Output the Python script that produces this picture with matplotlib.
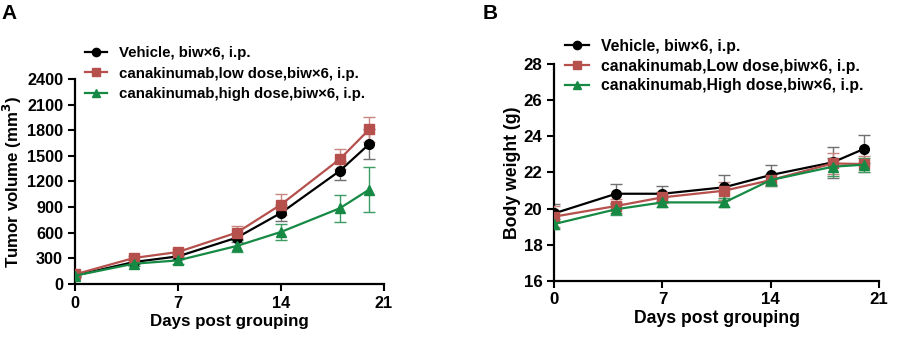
import matplotlib
matplotlib.use("Agg")
import matplotlib.pyplot as plt
import numpy as np

plt.rcParams['font.family'] = ['Liberation Sans', 'DejaVu Sans']
plt.rcParams['font.weight'] = 'bold'

days = [0, 4, 7, 11, 14, 18, 20]

# tumor volume (mm^3), mean and error
tv_vehicle = [100, 258, 324, 543, 832, 1325, 1638]
tv_vehicle_err = [15, 20, 25, 50, 90, 110, 175]
tv_low = [113, 305, 375, 602, 930, 1462, 1810]
tv_low_err = [15, 25, 30, 75, 120, 115, 150]
tv_high = [98, 238, 277, 446, 610, 887, 1106]
tv_high_err = [15, 25, 40, 66, 97, 160, 260]

# body weight (g), mean and error
bw_vehicle = [19.73, 20.82, 20.82, 21.18, 21.86, 22.56, 23.30]
bw_vehicle_err = [0.5, 0.52, 0.43, 0.7, 0.57, 0.85, 0.78]
bw_low = [19.55, 20.14, 20.62, 20.99, 21.58, 22.50, 22.47]
bw_low_err = [0.6, 0.4, 0.3, 0.5, 0.35, 0.6, 0.45]
bw_high = [19.14, 19.96, 20.34, 20.34, 21.58, 22.32, 22.43]
bw_high_err = [0.3, 0.3, 0.25, 0.25, 0.35, 0.5, 0.4]

labels_a = ['Vehicle, biw\u00d76, i.p.',
            'canakinumab,low dose,biw\u00d76, i.p.',
            'canakinumab,high dose,biw\u00d76, i.p.']
labels_b = ['Vehicle, biw\u00d76, i.p.',
            'canakinumab,Low dose,biw\u00d76, i.p.',
            'canakinumab,High dose,biw\u00d76, i.p.']

colors = ['#000000', '#B5504C', '#168A45']
err_colors = ['#707070', '#C98580', '#3C9C63']
markers = ['o', 's', '^']

fig = plt.figure(figsize=(9.1, 3.46), dpi=100)
ax_a = fig.add_axes([0.0824, 0.179, 0.3396, 0.593])
ax_b = fig.add_axes([0.609, 0.189, 0.357, 0.625])


def draw(ax, series, errs, labels, fs):
    handles = []
    for i in range(3):
        ax.errorbar(days, series[i], yerr=errs[i], fmt='none', ecolor=err_colors[i],
                    elinewidth=1, capsize=4.5, capthick=1, zorder=2 + i)
        h, = ax.plot(days, series[i], color=colors[i], marker=markers[i],
                     markersize=7, linewidth=1.6, zorder=5 + i, label=labels[i])
        handles.append(h)
    for s in ['top', 'right']:
        ax.spines[s].set_visible(False)
    for s in ['left', 'bottom']:
        ax.spines[s].set_linewidth(1.6)
    ax.tick_params(axis='both', direction='out', length=5, width=1.5, labelsize=fs - 0.5)
    ax.set_xlim(0, 21)
    ax.set_xticks([0, 7, 14, 21])
    ax.set_xlabel('Days post grouping', fontsize=fs, fontweight='bold', labelpad=2)
    return handles


h_a = draw(ax_a, [tv_vehicle, tv_low, tv_high],
           [tv_vehicle_err, tv_low_err, tv_high_err], labels_a, 12.2)
ax_a.set_ylim(0, 2400)
ax_a.set_yticks(np.arange(0, 2401, 300))
ax_a.set_ylabel('Tumor volume (mm$^3$)', fontsize=12.2, fontweight='bold', labelpad=2)
ax_a.legend(handles=h_a, loc='upper left', bbox_to_anchor=(0.007, 1.195), frameon=False,
            fontsize=10.8, handlelength=1.5, handletextpad=0.8, labelspacing=0.42,
            borderpad=0, markerscale=0.85)

h_b = draw(ax_b, [bw_vehicle, bw_low, bw_high],
           [bw_vehicle_err, bw_low_err, bw_high_err], labels_b, 12.7)
ax_b.set_ylim(16, 28)
ax_b.set_yticks(np.arange(16, 29, 2))
ax_b.set_ylabel('Body weight (g)', fontsize=12.7, fontweight='bold', labelpad=2)
ax_b.legend(handles=h_b, loc='upper left', bbox_to_anchor=(0.010, 1.154), frameon=False,
            fontsize=11.3, handlelength=1.5, handletextpad=0.8, labelspacing=0.3,
            borderpad=0, markerscale=0.85)

fig.text(0.002, 0.945, 'A', fontsize=15, fontweight='bold')
fig.text(0.530, 0.945, 'B', fontsize=15, fontweight='bold')

fig.savefig('out.png', dpi=100)
